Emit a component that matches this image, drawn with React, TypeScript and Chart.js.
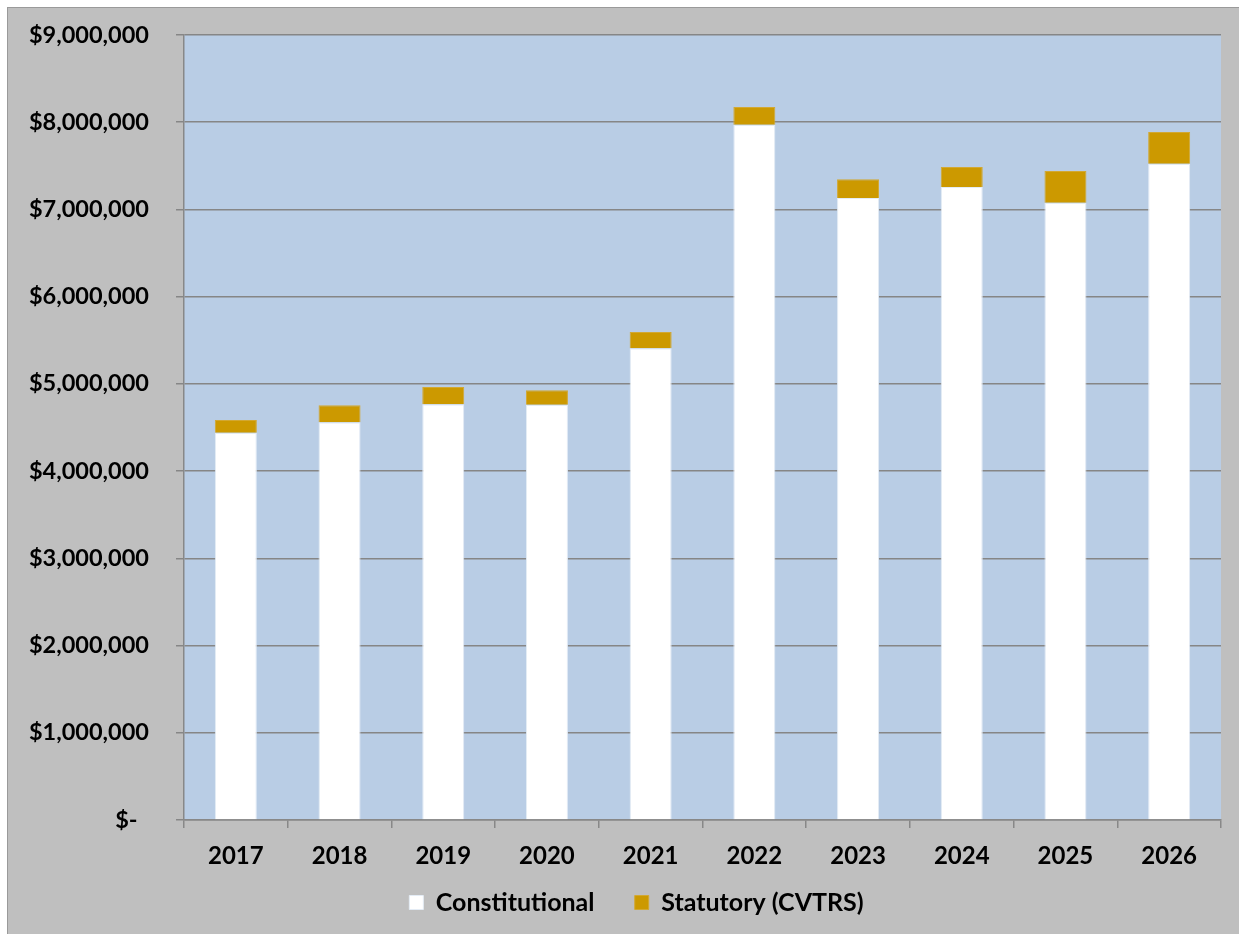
import React, { useEffect, useRef } from "react";
import { Chart, registerables } from "chart.js";

Chart.register(...registerables);

const years = ["2017", "2018", "2019", "2020", "2021", "2022", "2023", "2024", "2025", "2026"];
const constitutional = [4440000, 4560000, 4766000, 4762000, 5410000, 7970000, 7130000, 7257000, 7077000, 7525000];
const statutory = [146000, 195000, 198000, 164000, 185000, 205000, 215000, 230000, 363000, 363000];
const yTicks = [0, 1000000, 2000000, 3000000, 4000000, 5000000, 6000000, 7000000, 8000000, 9000000];

const FONT = "Lato, 'Open Sans', sans-serif";

const plotBg = {
  id: "plotBg",
  beforeDraw(chart: any) {
    const { ctx, chartArea } = chart;
    if (!chartArea) return;
    ctx.save();
    ctx.fillStyle = "#B9CDE5";
    ctx.fillRect(chartArea.left, chartArea.top, chartArea.right - chartArea.left, chartArea.bottom - chartArea.top);
    ctx.restore();
  },
};

const legendShift = {
  id: "legendShift",
  afterLayout(chart: any) {
    const lg = chart.legend;
    if (!lg) return;
    lg.left += 22;
    lg.right += 22;
  },
};

export default function App() {
  const ref = useRef<HTMLCanvasElement | null>(null);
  useEffect(() => {
    if (!ref.current) return;
    const chart = new Chart(ref.current, {
      type: "bar",
      data: {
        labels: years,
        datasets: [
          {
            label: "Constitutional   ",
            data: constitutional,
            backgroundColor: "#FFFFFF",
            borderColor: "#E4ECF5",
            borderWidth: 1,
            barPercentage: 0.405,
            categoryPercentage: 1,
          },
          {
            label: "Statutory (CVTRS)",
            data: statutory,
            backgroundColor: "#CC9900",
            borderColor: "#D2A832",
            borderWidth: 1,
            barPercentage: 0.405,
            categoryPercentage: 1,
          },
        ],
      },
      options: {
        animation: false,
        responsive: false,
        maintainAspectRatio: false,
        layout: { padding: { left: 0, right: 18, top: 27, bottom: 9 } },
        plugins: {
          legend: {
            position: "bottom",
            labels: {
              boxWidth: 14,
              boxHeight: 14,
              padding: 22,
              color: "#000",
              font: { family: FONT, size: 25, weight: "bold" },
            },
          },
          tooltip: { enabled: false },
        },
        scales: {
          x: {
            stacked: true,
            grid: { display: true, drawOnChartArea: false, drawTicks: true, offset: true, tickLength: 8, color: "#888888", lineWidth: 1.5 },
            border: { display: true, color: "#888888", width: 1.5 },
            ticks: { color: "#000", padding: 14, font: { family: FONT, size: 24, weight: "bold" } },
            afterFit(scale: any) {
              scale.height = 48;
            },
          },
          y: {
            stacked: true,
            min: 0,
            max: 9000000,
            afterBuildTicks(scale: any) {
              scale.ticks = yTicks.map((v) => ({ value: v }));
            },
            grid: { color: "#868686", lineWidth: 1.5, tickLength: 8, drawTicks: true },
            border: { display: true, color: "#888888", width: 1.5 },
            ticks: {
              color: "#000",
              padding: 27,
              font: { family: FONT, size: 23.5, weight: "bold" },
              callback: (v: any) => (Number(v) === 0 ? "$-  " : "$" + Number(v).toLocaleString("en-US")),
            },
            afterFit(scale: any) {
              scale.width = 176;
              scale.paddingTop = 0;
              scale.paddingBottom = 0;
            },
          },
        },
      },
      plugins: [plotBg, legendShift],
    });
    return () => chart.destroy();
  }, []);
  return (
    <div
      style={{
        position: "absolute",
        left: 7,
        top: 7,
        width: 1232,
        height: 927,
        background: "#BFBFBF",
        borderLeft: "1px solid #9a9a9a",
        borderTop: "1px solid #9a9a9a",
        boxSizing: "border-box",
      }}
    >
      <canvas ref={ref} width={1231} height={926} style={{ display: "block" }} />
    </div>
  );
}
